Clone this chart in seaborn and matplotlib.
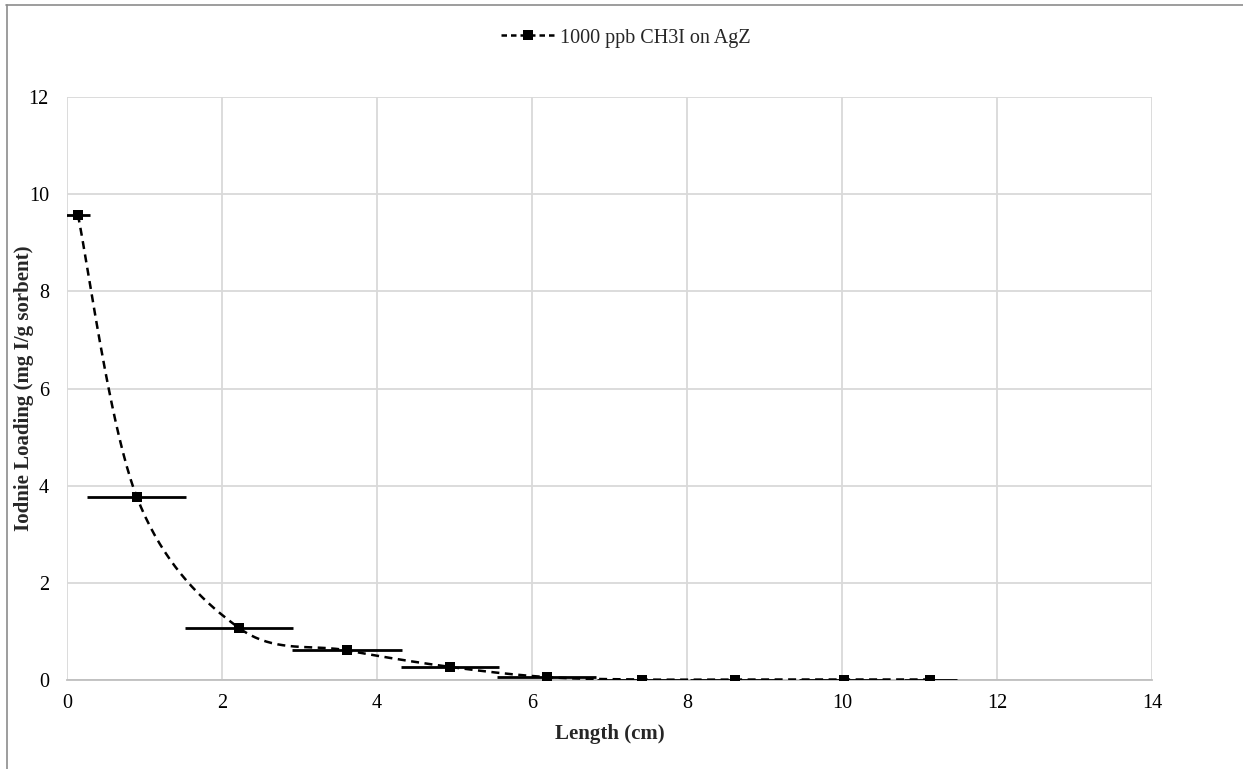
import numpy as np
import pandas as pd
import matplotlib
matplotlib.use("Agg")
import matplotlib.pyplot as plt
from matplotlib.lines import Line2D
import seaborn as sns

# Measured iodine loading along the bed
length_cm = [0.14, 0.90, 2.22, 3.61, 4.94, 6.19, 7.42, 8.62, 10.03, 11.14]
loading = [9.58, 3.77, 1.07, 0.61, 0.27, 0.06, 0.01, 0.01, 0.01, 0.01]
length_err = [0.16, 0.64, 0.70, 0.71, 0.63, 0.64, 0.58, 0.58, 0.58, 0.34]

series_label = "1000 ppb CH3I on AgZ"
x_ticks = [0, 2, 4, 6, 8, 10, 12, 14]
y_ticks = [0, 2, 4, 6, 8, 10, 12]

df = pd.DataFrame({"length": length_cm, "loading": loading, "err": length_err})

sns.set_theme(style="white")
plt.rcParams["font.family"] = ["Liberation Serif", "DejaVu Serif"]

W, H = 1243, 769
fig = plt.figure(figsize=(W / 100, H / 100), dpi=100)
ax = fig.add_axes([67 / W, (H - 680) / H, (1152 - 67) / W, (680 - 97) / H])


def smooth_curve(xs, ys, n=40):
    """Cubic Bezier smoothing through the points (spreadsheet-style smoothed line)."""
    p = np.column_stack([xs, ys]).astype(float)
    m = len(p)
    out = [p[0]]
    t = np.linspace(0, 1, n)[1:, None]
    for i in range(m - 1):
        p0 = p[i]
        p3 = p[i + 1]
        prev = p[i - 1] if i > 0 else p[i]
        nxt = p[i + 2] if i + 2 < m else p[i + 1]
        c1 = p0 + (p3 - prev) / 6.0
        c2 = p3 - (nxt - p0) / 6.0
        seg = ((1 - t) ** 3) * p0 + 3 * ((1 - t) ** 2) * t * c1 + 3 * (1 - t) * t ** 2 * c2 + t ** 3 * p3
        out.extend(seg)
    out = np.array(out)
    return out[:, 0], out[:, 1]


# Horizontal error bars
ax.errorbar(df["length"], df["loading"], xerr=df["err"], fmt="none",
            ecolor="black", elinewidth=2.0, capsize=0, zorder=3)

# Smoothed dashed trend through the points
sx, sy = smooth_curve(df["length"], df["loading"])
ax.plot(sx, sy, color="black", lw=1.8, dashes=(3.2, 2.2), zorder=4)

# Square markers
sns.scatterplot(data=df, x="length", y="loading", ax=ax, marker="s", s=50,
                color="black", edgecolor="black", linewidth=0, zorder=5, legend=False)

ax.set_xlim(0, 14)
ax.set_ylim(0, 12)
ax.set_xticks(x_ticks)
ax.set_yticks(y_ticks)
ax.set_xticklabels([str(v) for v in x_ticks])
ax.set_yticklabels([str(v) for v in y_ticks])
ax.grid(True, color="#d9d9d9", lw=1.3)
ax.set_axisbelow(True)
for side in ["top", "right", "left"]:
    ax.spines[side].set_visible(False)
ax.spines["bottom"].set_color("#bfbfbf")
ax.spines["bottom"].set_linewidth(1.3)
ax.tick_params(axis="both", length=0, labelsize=14.5, colors="black")
ax.tick_params(axis="x", pad=10)
ax.tick_params(axis="y", pad=13)

ax.set_xlabel("Length (cm)", fontsize=15, fontweight="bold")
ax.set_ylabel("Iodnie Loading (mg I/g sorbent)", fontsize=15, fontweight="bold")
ax.xaxis.set_label_coords((610 - 67) / (1152 - 67), -(724 - 680) / (680 - 97))
ax.yaxis.set_label_coords(-(67 - 34) / (1152 - 67), (680 - 388) / (680 - 97))

handle = Line2D([0], [0], color="black", lw=1.8, dashes=(2.2, 1.6),
                marker="s", markersize=7, markerfacecolor="black", markeredgewidth=0)
fig.legend([handle], [series_label], loc="center", bbox_to_anchor=(626 / W, 1 - 38 / H),
           frameon=False, fontsize=14.5, handlelength=2.6, handletextpad=0.3)

# Chart-area border (left and top edges)
fig.add_artist(Line2D([6.5 / W, 6.5 / W], [0, 1 - 5 / H], transform=fig.transFigure,
                      color="#8c8c8c", lw=1.2))
fig.add_artist(Line2D([6 / W, 1], [1 - 5 / H, 1 - 5 / H], transform=fig.transFigure,
                      color="#8c8c8c", lw=1.2))

fig.savefig("out.png", dpi=100)
